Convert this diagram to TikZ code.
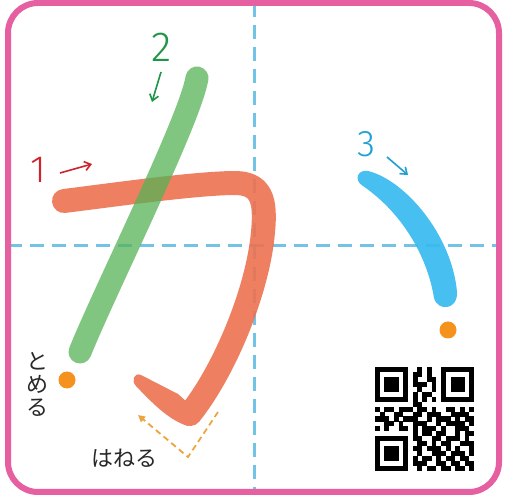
\documentclass[tikz,border=0pt]{standalone}
\usepackage{fontspec}
\newfontfamily\jpfont{Noto Sans CJK JP}
\IfFontExistsTF{Fira Sans Light}
  {\newfontfamily\numfont{Fira Sans Light}}
  {\newfontfamily\numfont{Noto Sans CJK JP}}
\usetikzlibrary{arrows.meta}

\definecolor{framepink}{RGB}{230,95,160}
\definecolor{guideblue}{RGB}{115,195,230}
\definecolor{strokeone}{RGB}{238,114,80}
\definecolor{striketwo}{RGB}{86,178,86}
\definecolor{strokethree}{RGB}{56,186,239}
\definecolor{dotorange}{RGB}{245,146,30}
\definecolor{numred}{RGB}{205,35,45}
\definecolor{numgreen}{RGB}{30,150,70}
\definecolor{numblue}{RGB}{30,160,210}
\definecolor{inkgray}{RGB}{40,40,40}
\definecolor{hintorange}{RGB}{235,165,60}

\begin{document}
\begin{tikzpicture}
  [x=1pt, y=-1pt,
   guide/.style={draw=guideblue, line width=3pt, dash pattern=on 14pt off 8pt},
   brush/.style={line width=24pt, line cap=round, line join=round},
   numlabel/.style={inner sep=0pt, font=\numfont\fontsize{38}{38}\selectfont},
   hint/.style={line width=1.6pt, -{Straight Barb[length=6pt, width=9pt]}},
   dot/.style={circle, fill=dotorange, inner sep=0pt, minimum size=17pt},
   word/.style={inner sep=0pt, text=inkgray, font=\jpfont\fontsize{22}{23}\selectfont}]

  \useasboundingbox (0,0) rectangle (507,497);
  \fill[white] (0,0) rectangle (507,497);

  % Guide lines
  \draw[guide] (254,3) -- (254,492);
  \draw[guide] (8,246) -- (499,246);

  % Stroke 1
  \begin{scope}[transparency group, opacity=0.9]
    \draw[brush, strokeone] (64,201) .. controls (120,194) and (190,184) .. (232,183)
      .. controls (262,182) and (266,200) .. (263,232)
      .. controls (258,290) and (225,370) .. (190,414);
    \fill[strokeone] (178,394) -- (141,375) .. controls (134,372) and (131,381) .. (136,386)
      .. controls (152,403) and (170,421) .. (188,426) -- (198,412) -- cycle;
  \end{scope}

  % Stroke 2
  \draw[brush, line width=23pt, striketwo, opacity=0.75]
    (197,78) .. controls (190,120) and (105,290) .. (80,352);

  % Stroke 3
  \fill[strokethree, opacity=0.92] (368,171) .. controls (405,180) and (452,235) .. (457,292)
    .. controls (458,310) and (438,312) .. (434,298)
    .. controls (428,260) and (405,215) .. (363,186)
    .. controls (353,180) and (358,169) .. (368,171) -- cycle;

  % Numbers and direction arrows
  \node[numlabel, text=numred] (num1) at (38,170) {1};
  \node[numlabel, text=numgreen, font=\numfont\fontsize{42}{42}\selectfont] (num2) at (162,47) {2};
  \node[numlabel, text=numblue, font=\numfont\fontsize{37}{37}\selectfont] (num3) at (366,144) {3};

  \coordinate (a1s) at (60,173);  \coordinate (a1e) at (92,164);
  \coordinate (a2s) at (161,72);  \coordinate (a2e) at (152,102);
  \coordinate (a3s) at (387,157); \coordinate (a3e) at (408,175);
  \draw[hint, numred] (a1s) -- (a1e);
  \draw[hint, numgreen] (a2s) -- (a2e);
  \draw[hint, numblue] (a3s) -- (a3e);

  % End dots
  \node[dot] (stop1) at (67,380) {};
  \node[dot] (stop3) at (448,330) {};

  % Notes
  \node[word, align=center] (tomeru) at (38,384) {と\\め\\る};
  \node[word] (haneru) at (125,458) {はねる};

  \coordinate (h1) at (218,412);
  \coordinate (h2) at (188,457);
  \coordinate (h3) at (138,415);
  \draw[hintorange, line width=1.8pt, dash pattern=on 6pt off 4pt,
        -{Triangle[length=7pt, width=7pt]}] (h1) -- (h2) -- (h3);

  % QR code
  \foreach \row [count=\r from 0] in {
    {1,1,1,1,1,1,1,0,0,1,0,1,0,0,1,1,1,1,1,1,1},
    {1,0,0,0,0,0,1,0,1,1,0,1,0,0,1,0,0,0,0,0,1},
    {1,0,1,1,1,0,1,0,1,0,0,1,1,0,1,0,1,1,1,0,1},
    {1,0,1,1,1,0,1,0,1,1,1,0,1,0,1,0,1,1,1,0,1},
    {1,0,1,1,1,0,1,0,0,1,0,0,1,0,1,0,1,1,1,0,1},
    {1,0,0,0,0,0,1,0,1,0,1,1,0,0,1,0,0,0,0,0,1},
    {1,1,1,1,1,1,1,0,1,0,1,0,1,0,1,1,1,1,1,1,1},
    {0,0,0,0,0,0,0,0,1,1,0,0,0,0,0,0,0,0,0,0,0},
    {1,0,1,1,0,1,1,1,0,1,1,0,1,0,0,1,1,0,1,0,1},
    {0,1,0,0,1,1,0,0,1,1,0,1,1,1,0,0,1,1,1,1,0},
    {1,1,1,0,1,0,1,1,1,0,0,1,0,1,1,1,0,1,0,1,1},
    {0,0,1,1,0,1,0,0,1,1,1,0,0,1,0,1,1,1,1,0,1},
    {1,0,1,0,0,1,1,0,1,0,1,1,1,0,1,0,0,1,1,1,0},
    {0,0,0,0,0,0,0,0,1,0,1,1,0,1,1,0,0,1,0,1,1},
    {1,1,1,1,1,1,1,0,1,1,0,0,1,1,0,1,1,1,0,1,0},
    {1,0,0,0,0,0,1,0,0,1,1,0,1,0,1,1,0,0,1,1,1},
    {1,0,1,1,1,0,1,0,1,1,0,1,1,1,0,1,0,1,0,0,1},
    {1,0,1,1,1,0,1,0,0,1,0,0,1,1,1,0,1,1,1,0,1},
    {1,0,1,1,1,0,1,0,1,0,1,1,0,1,0,1,1,0,1,1,0},
    {1,0,0,0,0,0,1,0,1,1,1,0,0,1,1,0,1,1,0,1,1},
    {1,1,1,1,1,1,1,0,0,1,0,1,1,0,1,1,0,1,1,0,1}}
    \foreach \v [count=\c from 0] in \row
      {\ifnum\v=1 \fill[black] (375+\c*4.72,367+\r*4.95) rectangle ++(4.8,5.03);\fi};

  % Frame
  \draw[framepink, line width=6pt, rounded corners=30pt] (8,3) rectangle (499,492);
\end{tikzpicture}
\end{document}
